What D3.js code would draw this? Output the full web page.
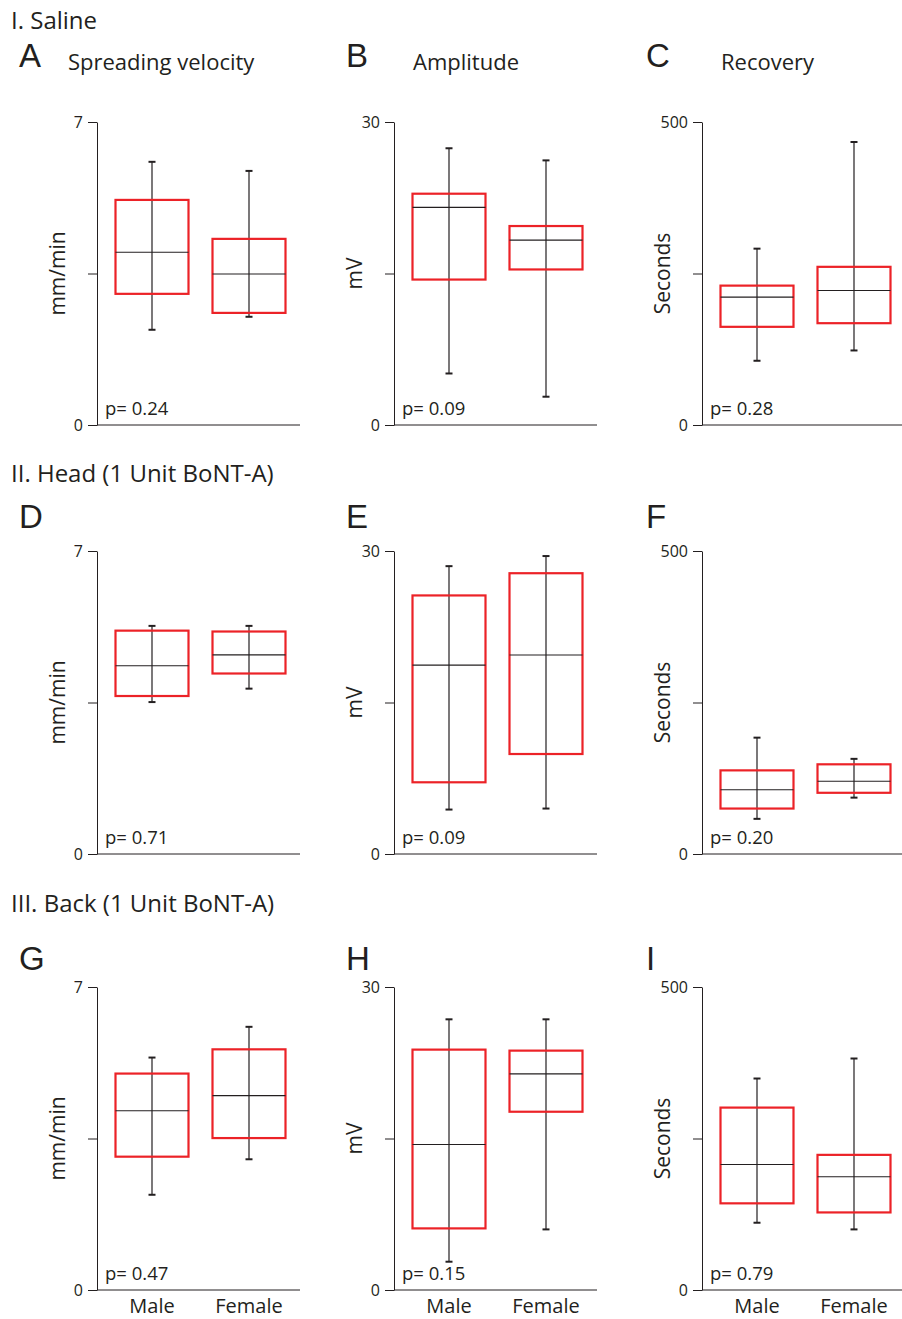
<!DOCTYPE html>
<html>
<head>
<meta charset="utf-8">
<script src="https://cdn.jsdelivr.net/npm/d3@7"></script>
<style>
  body { margin: 0; background: #fff; }
  text { fill: #231f20; }
</style>
</head>
<body>
<svg id="chart" width="902" height="1319"></svg>
<script>
// données : [moustache basse, Q1, médiane, Q3, moustache haute]
var groups = ["Male", "Female"];
var sections = ["I. Saline", "II. Head (1 Unit BoNT-A)", "III. Back (1 Unit BoNT-A)"];
var letters = [["A", "B", "C"], ["D", "E", "F"], ["G", "H", "I"]];
var measures = ["Spreading velocity", "Amplitude", "Recovery"];
var units = ["mm/min", "mV", "Seconds"];
var yMax = [7, 30, 500];
var pValues = [["0.24", "0.09", "0.28"], ["0.71", "0.09", "0.20"], ["0.47", "0.15", "0.79"]];

var velocitySaline = [[2.2, 3.03, 3.99, 5.20, 6.08], [2.50, 2.59, 3.49, 4.30, 5.87]];
var amplitudeSaline = [[5.1, 14.4, 21.55, 22.9, 27.4], [2.8, 15.4, 18.3, 19.7, 26.2]];
var recoverySaline = [[106, 162, 211, 230, 291], [123, 168, 222, 261, 467]];
var velocityHead = [[3.51, 3.65, 4.35, 5.16, 5.27], [3.82, 4.17, 4.60, 5.14, 5.27]];
var amplitudeHead = [[4.4, 7.1, 18.7, 25.6, 28.5], [4.5, 9.9, 19.7, 27.8, 29.5]];
var recoveryHead = [[58, 75, 106, 138, 192], [93, 101, 120, 148, 157]];
var velocityBack = [[2.2, 3.08, 4.14, 5.00, 5.37], [3.02, 3.51, 4.49, 5.56, 6.08]];
var amplitudeBack = [[2.8, 6.1, 14.4, 23.8, 26.8], [6.0, 17.65, 21.4, 23.7, 26.8]];
var recoveryBack = [[111, 143, 207, 301, 349], [100, 128, 187, 223, 382]];

var stats = [
  [velocitySaline, amplitudeSaline, recoverySaline],
  [velocityHead, amplitudeHead, recoveryHead],
  [velocityBack, amplitudeBack, recoveryBack]
];

// mise en page
var axisX = [97, 394, 702];
var axisTop = [122, 551, 987];
var plotH = 303, plotW = 203;
var letterX = [19, 346, 646];
var letterY = [67, 528, 970];
var sectionY = [29, 482, 912];
var subtitleX = [68, 413, 721];
var boxW = 73;
var red = "#ec2227", ink = "#231f20";

var svg = d3.select("#chart");
var x = d3.scalePoint().domain(groups).range([55, 152]);

sections.forEach(function(s, r) {
  svg.append("text")
    .attr("x", 11).attr("y", sectionY[r])
    .style("font-family", "Open Sans").style("font-size", "24px")
    .text(s);

  for (var c = 0; c < 3; c++) {
    svg.append("text")
      .attr("x", letterX[c]).attr("y", letterY[r])
      .style("font-family", "Liberation Sans").style("font-size", "33px")
      .text(letters[r][c]);

    if (r === 0) {
      svg.append("text")
        .attr("x", subtitleX[c]).attr("y", 70)
        .style("font-family", "Open Sans").style("font-size", "22px")
        .text(measures[c]);
    }

    var g = svg.append("g").attr("transform", "translate(" + axisX[c] + "," + axisTop[r] + ")");
    var y = d3.scaleLinear().domain([0, yMax[c]]).range([plotH, 0]);

    var yAxis = d3.axisLeft(y)
      .tickValues([0, yMax[c] / 2, yMax[c]])
      .tickFormat(function(d) { return d === yMax[c] / 2 ? "" : d; })
      .tickSize(9).tickSizeOuter(0).tickPadding(5);
    var ga = g.append("g").call(yAxis);
    ga.select(".domain").attr("stroke", ink);
    ga.selectAll(".tick line").attr("stroke", ink);
    ga.selectAll(".tick text")
      .style("font-family", "Open Sans").style("font-size", "16px").attr("fill", ink);

    g.append("line")
      .attr("x1", 0).attr("x2", plotW)
      .attr("y1", y(0)).attr("y2", y(0))
      .attr("stroke", ink).attr("stroke-width", 1);

    g.append("text")
      .attr("transform", "translate(-32," + (plotH / 2) + ") rotate(-90)")
      .attr("text-anchor", "middle")
      .style("font-family", "Open Sans").style("font-size", "21px")
      .text(units[c]);

    g.append("text")
      .attr("x", 8).attr("y", plotH - 10)
      .style("font-family", "Open Sans").style("font-size", "18.5px")
      .text("p= " + pValues[r][c]);

    var box = g.selectAll(".box")
      .data(stats[r][c].map(function(v, i) { return { group: groups[i], v: v }; }))
      .enter().append("g").attr("class", "box");

    // moustaches
    box.append("line")
      .attr("x1", function(d) { return x(d.group); })
      .attr("x2", function(d) { return x(d.group); })
      .attr("y1", function(d) { return y(d.v[0]); })
      .attr("y2", function(d) { return y(d.v[4]); })
      .attr("stroke", ink).attr("stroke-width", 1.2);
    [0, 4].forEach(function(k) {
      box.append("line")
        .attr("x1", function(d) { return x(d.group) - 3.5; })
        .attr("x2", function(d) { return x(d.group) + 3.5; })
        .attr("y1", function(d) { return y(d.v[k]); })
        .attr("y2", function(d) { return y(d.v[k]); })
        .attr("stroke", ink).attr("stroke-width", 2);
    });

    box.append("rect")
      .attr("x", function(d) { return x(d.group) - boxW / 2; })
      .attr("y", function(d) { return y(d.v[3]); })
      .attr("width", boxW)
      .attr("height", function(d) { return y(d.v[1]) - y(d.v[3]); })
      .attr("fill", "none").attr("stroke", red).attr("stroke-width", 2.2);

    box.append("line")
      .attr("x1", function(d) { return x(d.group) - boxW / 2; })
      .attr("x2", function(d) { return x(d.group) + boxW / 2; })
      .attr("y1", function(d) { return y(d.v[2]); })
      .attr("y2", function(d) { return y(d.v[2]); })
      .attr("stroke", ink).attr("stroke-width", 1.1);

    if (r === 2) {
      g.selectAll(".cat")
        .data(groups)
        .enter().append("text")
        .attr("class", "cat")
        .attr("x", function(d) { return x(d); })
        .attr("y", plotH + 23)
        .attr("text-anchor", "middle")
        .style("font-family", "Open Sans").style("font-size", "20px")
        .text(function(d) { return d; });
    }
  }
});
</script>
</body>
</html>
